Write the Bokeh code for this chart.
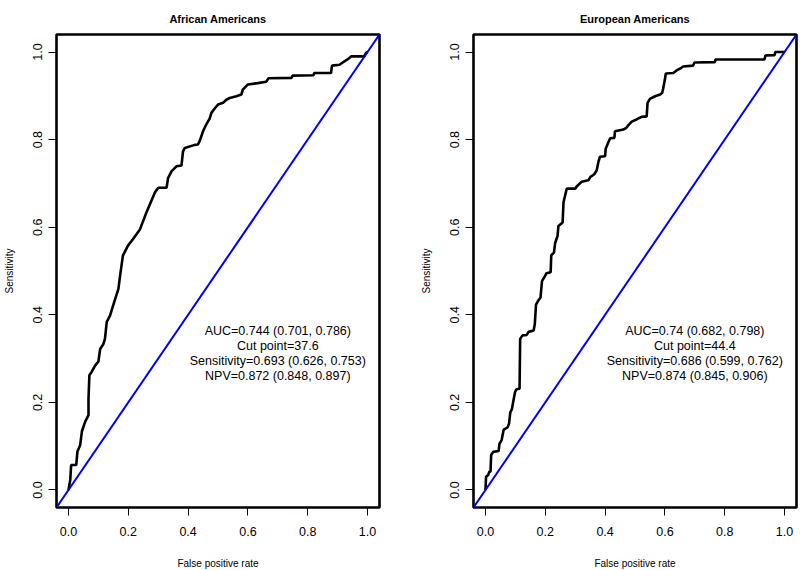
from bokeh.plotting import figure
from bokeh.layouts import row
from bokeh.models import Range1d, FixedTicker, PrintfTickFormatter, Slope, Label
from bokeh.embed import file_html
from bokeh.resources import INLINE

# ---- data ----
titles = ["African Americans", "European Americans"]

aa_fpr = [0, 0.006, 0.009, 0.026, 0.030, 0.039, 0.045, 0.056, 0.067, 0.067, 0.070, 0.078, 0.089, 0.100,
          0.106, 0.116, 0.122, 0.128, 0.139, 0.148, 0.156, 0.167, 0.172, 0.182, 0.199, 0.216, 0.239, 0.261,
          0.282, 0.289, 0.300, 0.328, 0.333, 0.345, 0.361, 0.378, 0.383, 0.389, 0.422, 0.433, 0.439, 0.450,
          0.461, 0.472, 0.478, 0.489, 0.500, 0.517, 0.528, 0.539, 0.561, 0.578, 0.583, 0.600, 0.633, 0.661,
          0.669, 0.746, 0.749, 0.819, 0.822, 0.878, 0.881, 0.906, 0.917, 0.933, 0.945, 0.989, 0.995, 1.0]
aa_sens = [0, 0.023, 0.057, 0.057, 0.088, 0.102, 0.134, 0.156, 0.171, 0.209, 0.262, 0.270, 0.284, 0.293,
           0.322, 0.332, 0.345, 0.384, 0.398, 0.418, 0.436, 0.459, 0.486, 0.535, 0.558, 0.573, 0.595, 0.634,
           0.668, 0.679, 0.690, 0.690, 0.712, 0.728, 0.739, 0.741, 0.773, 0.781, 0.788, 0.789, 0.797, 0.819,
           0.835, 0.848, 0.861, 0.871, 0.880, 0.884, 0.891, 0.895, 0.899, 0.903, 0.914, 0.926, 0.929, 0.932,
           0.940, 0.941, 0.946, 0.947, 0.952, 0.952, 0.969, 0.971, 0.976, 0.983, 0.990, 0.990, 0.998, 1.0]

ea_fpr = [0, 0.002, 0.009, 0.013, 0.017, 0.019, 0.026, 0.044, 0.047, 0.054, 0.061, 0.074, 0.079, 0.083,
          0.088, 0.093, 0.099, 0.104, 0.114, 0.116, 0.124, 0.138, 0.144, 0.161, 0.165, 0.169, 0.178, 0.184,
          0.189, 0.198, 0.204, 0.218, 0.220, 0.229, 0.233, 0.241, 0.244, 0.258, 0.261, 0.270, 0.272, 0.300,
          0.305, 0.322, 0.344, 0.351, 0.364, 0.372, 0.378, 0.383, 0.400, 0.402, 0.411, 0.417, 0.431, 0.433,
          0.461, 0.471, 0.478, 0.489, 0.505, 0.522, 0.539, 0.542, 0.550, 0.567, 0.584, 0.591, 0.594, 0.600,
          0.603, 0.628, 0.639, 0.655, 0.661, 0.694, 0.699, 0.767, 0.769, 0.933, 0.936, 0.967, 0.969, 1.0]
ea_sens = [0, 0.030, 0.034, 0.042, 0.042, 0.080, 0.087, 0.089, 0.106, 0.114, 0.138, 0.143, 0.152, 0.177,
           0.184, 0.202, 0.224, 0.230, 0.231, 0.345, 0.353, 0.354, 0.361, 0.364, 0.379, 0.423, 0.434, 0.439,
           0.477, 0.487, 0.495, 0.497, 0.536, 0.542, 0.564, 0.580, 0.603, 0.611, 0.657, 0.683, 0.688, 0.688,
           0.693, 0.704, 0.707, 0.715, 0.721, 0.730, 0.750, 0.761, 0.762, 0.779, 0.794, 0.803, 0.804, 0.819,
           0.823, 0.827, 0.833, 0.841, 0.846, 0.852, 0.853, 0.884, 0.893, 0.899, 0.903, 0.907, 0.916, 0.937,
           0.951, 0.952, 0.958, 0.964, 0.967, 0.969, 0.976, 0.977, 0.983, 0.983, 0.992, 0.993, 1.000, 1.0]

aa_stats = ["AUC=0.744 (0.701, 0.786)", "Cut point=37.6",
            "Sensitivity=0.693 (0.626, 0.753)", "NPV=0.872 (0.848, 0.897)"]
ea_stats = ["AUC=0.74 (0.682, 0.798)", "Cut point=44.4",
            "Sensitivity=0.686 (0.599, 0.762)", "NPV=0.874 (0.845, 0.906)"]

tick_values = [0.0, 0.2, 0.4, 0.6, 0.8, 1.0]
x_label = "False positive rate"
y_label = "Sensitivity"

FONT = "Liberation Sans"


def make_panel(title, fpr, sens, stats, left, right):
    p = figure(frame_width=323, frame_height=473,
               x_range=Range1d(-0.04, 1.04), y_range=Range1d(-0.04, 1.04),
               output_backend="svg", toolbar_location=None,
               min_border_left=left, min_border_right=right,
               min_border_top=34, min_border_bottom=58)
    p.title.text = title
    p.title.align = "center"
    p.title.text_font = FONT
    p.title.text_font_size = "11px"
    p.title.text_font_style = "bold"
    p.title.text_color = "black"
    p.title.standoff = 20
    p.xgrid.visible = False
    p.ygrid.visible = False
    p.outline_line_color = "black"
    p.outline_line_width = 2.6
    p.outline_line_alpha = 1.0
    p.background_fill_color = "white"
    p.border_fill_color = "white"

    for ax in (p.xaxis[0], p.yaxis[0]):
        ax.ticker = FixedTicker(ticks=tick_values)
        ax.formatter = PrintfTickFormatter(format="%.1f")
        ax.axis_line_color = None
        ax.major_tick_in = 0
        ax.major_tick_out = 8
        ax.major_tick_line_color = "black"
        ax.major_tick_line_width = 1
        ax.minor_tick_line_color = None
        ax.major_label_text_font = FONT
        ax.major_label_text_font_size = "12.5px"
        ax.major_label_text_color = "black"
        ax.axis_label_text_font = FONT
        ax.axis_label_text_font_size = "10px"
        ax.axis_label_text_font_style = "normal"
        ax.axis_label_text_color = "black"
    p.xaxis.axis_label = x_label
    p.yaxis.axis_label = y_label
    p.xaxis.major_label_standoff = 11
    p.xaxis.axis_label_standoff = 19
    p.yaxis.major_label_orientation = "vertical"
    p.yaxis.major_label_standoff = 6
    p.yaxis.axis_label_standoff = 16

    p.add_layout(Slope(gradient=1, y_intercept=0, line_color="#0000EE", line_width=2))
    p.line(fpr, sens, line_color="black", line_width=2.6)

    for i, s in enumerate(stats):
        p.add_layout(Label(x=0.70, y=0.364, y_offset=-15 * i, text=s, text_align="center",
                           text_baseline="middle", text_font=FONT, text_font_size="12.5px",
                           text_color="black"))
    return p


p1 = make_panel(titles[0], aa_fpr, aa_sens, aa_stats, 56, 38)
p2 = make_panel(titles[1], ea_fpr, ea_sens, ea_stats, 56, 2)

layout = row(p1, p2)
open("out.html", "w").write(file_html(layout, INLINE))
